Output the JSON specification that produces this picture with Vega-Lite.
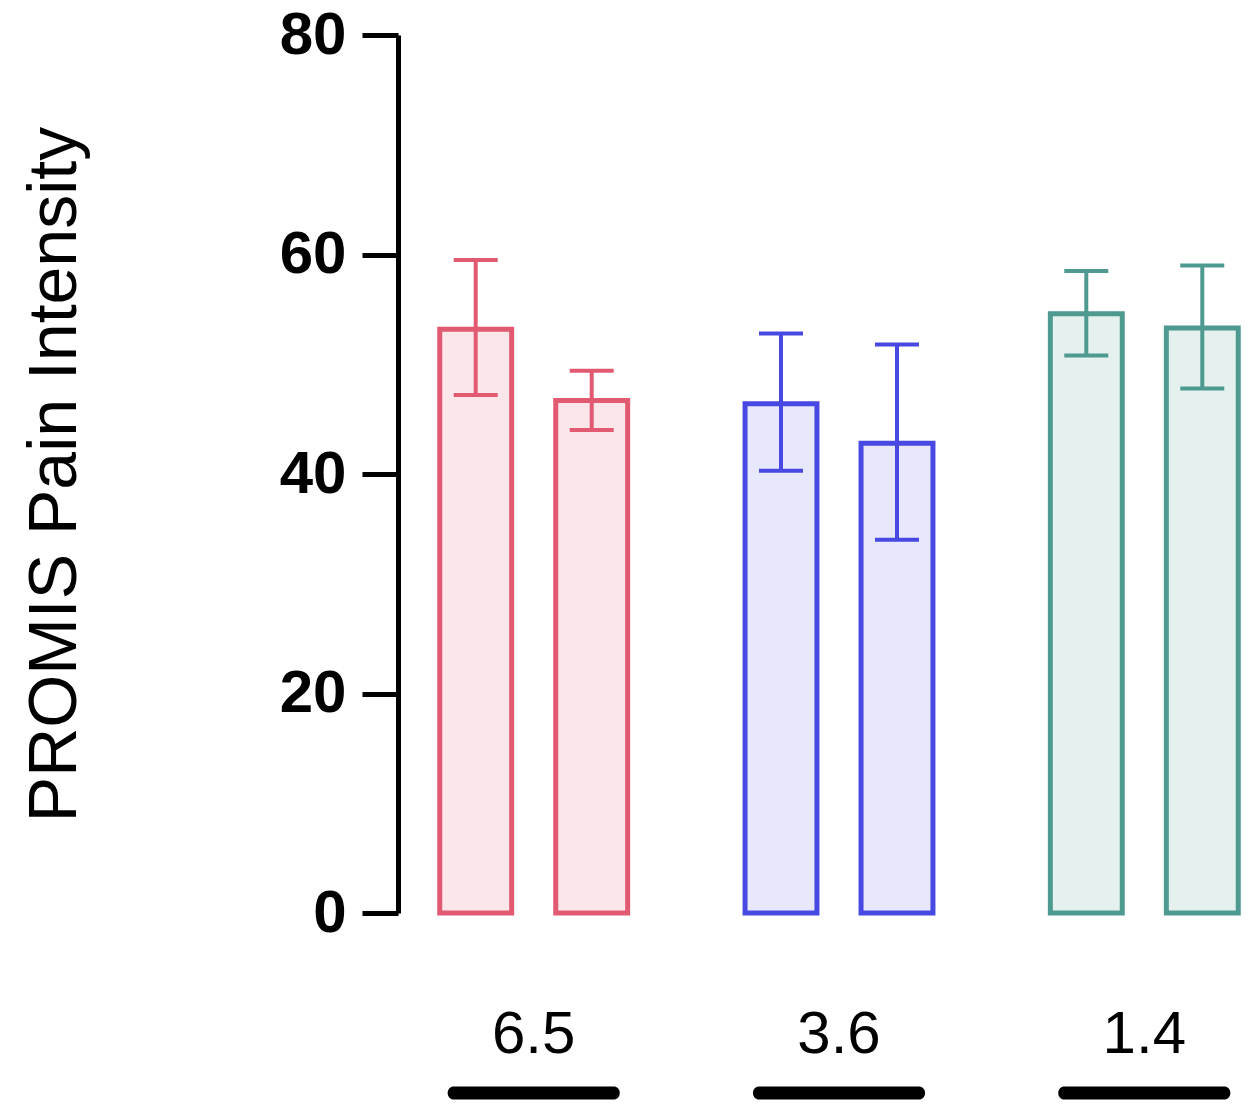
{
  "$schema": "https://vega.github.io/schema/vega-lite/v6.json",
  "autosize": "none",
  "width": 842,
  "height": 878,
  "padding": {"left": 418, "top": 35, "right": 0, "bottom": 200},
  "background": "white",
  "config": {"view": {"stroke": null}},
  "data": {"values": [
    {"group": "6.5", "sub": "a", "mean": 53.2, "lo": 47.2, "hi": 59.5},
    {"group": "6.5", "sub": "b", "mean": 46.7, "lo": 44.0, "hi": 49.4},
    {"group": "3.6", "sub": "a", "mean": 46.4, "lo": 40.3, "hi": 52.8},
    {"group": "3.6", "sub": "b", "mean": 42.8, "lo": 34.0, "hi": 51.8},
    {"group": "1.4", "sub": "a", "mean": 54.6, "lo": 50.8, "hi": 58.5},
    {"group": "1.4", "sub": "b", "mean": 53.3, "lo": 47.8, "hi": 59.0}
  ]},
  "encoding": {
    "x": {"field": "group", "type": "nominal", "sort": ["6.5", "3.6", "1.4"],
      "scale": {"paddingInner": 0.242, "paddingOuter": 0},
      "axis": {"title": null, "domain": false, "ticks": false, "labelAngle": 0,
        "labelFont": "Liberation Sans", "labelFontSize": 60, "labelColor": "black",
        "labelPadding": 92, "labelBaseline": "top"}}
  },
  "layer": [
    {
      "mark": {"type": "bar", "strokeWidth": 5},
      "encoding": {
        "xOffset": {"field": "sub", "type": "nominal", "scale": {"paddingInner": 0.38, "paddingOuter": 0.1875}},
        "y": {"field": "mean", "type": "quantitative",
          "scale": {"domain": [0, 80], "nice": false, "zero": true},
          "axis": {"title": "PROMIS Pain Intensity", "values": [0, 20, 40, 60, 80], "grid": false,
            "offset": 20, "domainColor": "black", "domainWidth": 5, "tickColor": "black",
            "tickWidth": 5, "tickSize": 36, "labelFont": "Liberation Sans", "labelFontWeight": "bold",
            "labelFontSize": 60, "labelColor": "black", "labelPadding": 16,
            "titleFont": "Liberation Sans", "titleFontWeight": "normal", "titleFontSize": 68,
            "titleColor": "black", "titleX": -323, "titleY": 439, "titleBaseline": "alphabetic", "titleAngle": -90}},
        "fill": {"field": "group", "type": "nominal", "legend": null,
          "scale": {"domain": ["6.5", "3.6", "1.4"], "range": ["#fbe6ea", "#e7e8fb", "#e4f1ee"]}},
        "stroke": {"field": "group", "type": "nominal", "legend": null,
          "scale": {"domain": ["6.5", "3.6", "1.4"], "range": ["#e25a72", "#4848e2", "#4f9a90"]}}
      }
    },
    {
      "mark": {"type": "rule", "strokeWidth": 4},
      "encoding": {
        "xOffset": {"field": "sub", "type": "nominal"},
        "y": {"field": "lo", "type": "quantitative"},
        "y2": {"field": "hi"},
        "stroke": {"field": "group", "type": "nominal", "legend": null}
      }
    },
    {
      "mark": {"type": "tick", "size": 44, "thickness": 4, "opacity": 1},
      "encoding": {
        "xOffset": {"field": "sub", "type": "nominal"},
        "y": {"field": "hi", "type": "quantitative"},
        "color": {"field": "group", "type": "nominal", "legend": null,
          "scale": {"domain": ["6.5", "3.6", "1.4"], "range": ["#e25a72", "#4848e2", "#4f9a90"]}}
      }
    },
    {
      "mark": {"type": "tick", "size": 44, "thickness": 4, "opacity": 1},
      "encoding": {
        "xOffset": {"field": "sub", "type": "nominal"},
        "y": {"field": "lo", "type": "quantitative"},
        "color": {"field": "group", "type": "nominal", "legend": null}
      }
    },
    {
      "transform": [{"filter": "datum.sub == 'a'"}],
      "mark": {"type": "tick", "size": 172, "thickness": 13, "cornerRadius": 6, "color": "black", "opacity": 1},
      "encoding": {
        "y": {"datum": -16.4, "type": "quantitative"}
      }
    }
  ]
}
